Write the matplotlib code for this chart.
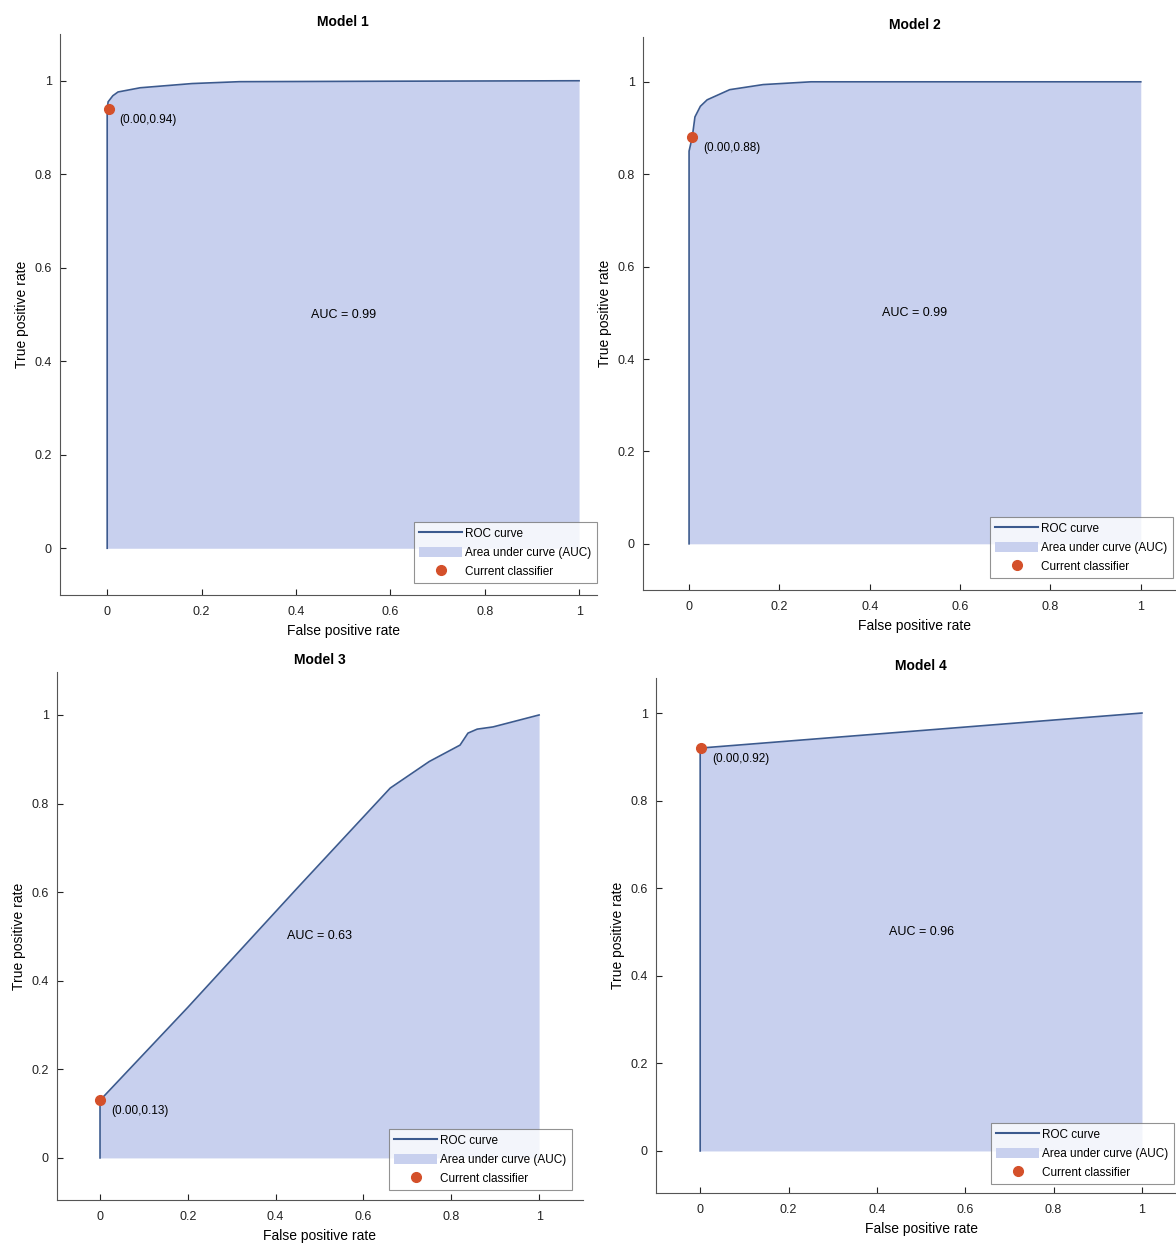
import matplotlib

matplotlib.use("Agg")
import matplotlib.pyplot as plt
from matplotlib.lines import Line2D
from matplotlib.patches import Patch

plt.rcParams["font.family"] = ["Liberation Sans", "DejaVu Sans"]

W, H = 1176, 1244

titles = ["Model 1", "Model 2", "Model 3", "Model 4"]
auc_values = [0.99, 0.99, 0.63, 0.96]

m1_fpr = [0, 0, 0.002, 0.012, 0.023, 0.07, 0.18, 0.28, 0.6, 1.0]
m1_tpr = [0, 0.94, 0.955, 0.968, 0.976, 0.985, 0.994, 0.998, 0.999, 1.0]
m2_fpr = [0, 0, 0.007, 0.013, 0.025, 0.04, 0.09, 0.164, 0.27, 1.0]
m2_tpr = [0, 0.85, 0.88, 0.924, 0.947, 0.961, 0.983, 0.994, 1.0, 1.0]
m3_fpr = [0, 0, 0.2, 0.45, 0.661, 0.75, 0.82, 0.838, 0.859, 0.895, 1.0]
m3_tpr = [0, 0.13, 0.34, 0.61, 0.835, 0.895, 0.932, 0.959, 0.968, 0.973, 1.0]
m4_fpr = [0, 0, 1.0]
m4_tpr = [0, 0.92, 1.0]

op_fpr = [0.003, 0.006, 0.0, 0.002]
op_tpr = [0.94, 0.88, 0.13, 0.92]
op_labels = ["(0.00,0.94)", "(0.00,0.88)", "(0.00,0.13)", "(0.00,0.92)"]

ticks = [0, 0.2, 0.4, 0.6, 0.8, 1]
tick_labels = ["0", "0.2", "0.4", "0.6", "0.8", "1"]

# pixel boxes: left, right, top, bottom ; plus xlim, ylim
panels = [
    dict(box=(60, 597, 34, 595), xlim=(-0.1, 1.038), ylim=(-0.1, 1.1)),
    dict(box=(643, 1176, 37, 590), xlim=(-0.102, 1.078), ylim=(-0.1, 1.097)),
    dict(box=(57, 583, 672, 1200), xlim=(-0.098, 1.1), ylim=(-0.095, 1.097)),
    dict(box=(656, 1176, 678, 1193), xlim=(-0.1, 1.077), ylim=(-0.096, 1.08)),
]
legend_boxes = [(597, 583), (1173, 578), (572, 1190), (1174, 1184)]

fill_color = "#c8d0ee"
line_color = "#3c5a8e"
dot_color = "#d4502a"

fig = plt.figure(figsize=(W / 100, H / 100), dpi=100)

curves = [(m1_fpr, m1_tpr), (m2_fpr, m2_tpr), (m3_fpr, m3_tpr), (m4_fpr, m4_tpr)]
for i, (fpr, tpr) in enumerate(curves):
    l, r, t, b = panels[i]["box"]
    x0, x1 = panels[i]["xlim"]
    ax = fig.add_axes([l / W, 1 - b / H, (r - l) / W, (b - t) / H])
    ax.set_xlim(x0, x1)
    ax.set_ylim(*panels[i]["ylim"])
    mid = (0.5 - x0) / (x1 - x0)  # data x = 0.5 in axes fraction

    ax.fill_between(fpr, tpr, 0, color=fill_color, linewidth=0)
    ax.plot(fpr, tpr, color=line_color, linewidth=1.2)
    ax.plot(op_fpr[i], op_tpr[i], "o", color=dot_color, markersize=7, zorder=5)
    ax.annotate(op_labels[i], (op_fpr[i], op_tpr[i]), xytext=(11, -11),
                textcoords="offset pixels", fontsize=8.5, va="center", ha="left")
    ax.text(0.5, 0.5, f"AUC = {auc_values[i]:.2f}", fontsize=9, ha="center", va="center")

    for s in ["top", "right"]:
        ax.spines[s].set_visible(False)
    for s in ["left", "bottom"]:
        ax.spines[s].set_color("#555555")
        ax.spines[s].set_linewidth(0.8)
    ax.set_xticks(ticks)
    ax.set_xticklabels(tick_labels)
    ax.set_yticks(ticks)
    ax.set_yticklabels(tick_labels)
    ax.tick_params(direction="in", length=4, labelsize=9, colors="#222222", pad=8)
    ax.tick_params(axis="y", pad=6)
    ax.set_xlabel("False positive rate", fontsize=10, labelpad=4, x=mid)
    ax.set_ylabel("True positive rate", fontsize=10, labelpad=4)
    ax.set_title(titles[i], fontsize=10, fontweight="bold", pad=6, x=mid)

    handles = [
        Line2D([0], [0], color=line_color, linewidth=1.5),
        Patch(facecolor=fill_color, edgecolor="none"),
        Line2D([0], [0], marker="o", color=dot_color, linestyle="none", markersize=7),
    ]
    lx, ly = legend_boxes[i]
    leg = ax.legend(handles, ["ROC curve", "Area under curve (AUC)", "Current classifier"],
                    loc="lower right", bbox_to_anchor=(lx / W, 1 - ly / H),
                    bbox_transform=fig.transFigure, fontsize=8.5, frameon=True,
                    fancybox=False, borderpad=0.45, labelspacing=0.55,
                    handlelength=3.6, handleheight=1.0, handletextpad=0.3,
                    borderaxespad=0)
    leg.get_frame().set_edgecolor("#777777")
    leg.get_frame().set_linewidth(0.8)

fig.savefig("out.png", dpi=100)
